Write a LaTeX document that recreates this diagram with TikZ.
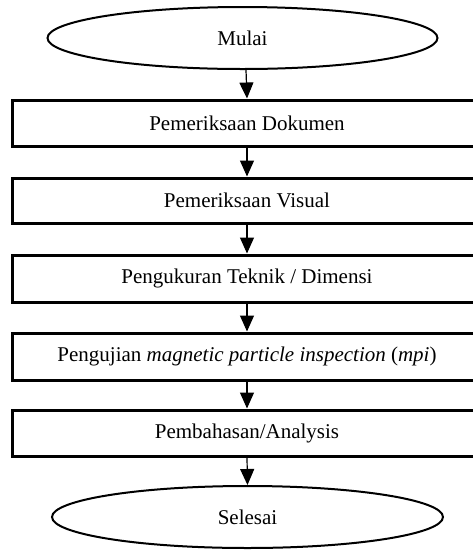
\documentclass[tikz,border=0pt]{standalone}
\usepackage{fontspec}
\setmainfont{Liberation Serif}
\usetikzlibrary{shapes.geometric,arrows.meta}
\begin{document}
\begin{tikzpicture}[x=1pt,y=-1pt,
  every node/.style={font=\fontsize{21}{25}\selectfont},
  term/.style={ellipse,draw,line width=2pt,inner sep=0pt,minimum width=390pt,minimum height=62pt},
  proc/.style={rectangle,draw,line width=3pt,inner sep=0pt,minimum width=470pt,minimum height=46pt},
  flow/.style={line width=1.2pt,-{Triangle[length=16pt,width=14pt]}}]
\useasboundingbox (0,0) rectangle (473,550);
\node[term] (e1) at (242.5,38) {Mulai};
\node[proc] (r1) at (247,123) {Pemeriksaan Dokumen};
\node[proc,minimum height=45pt] (r2) at (247,200.5) {Pemeriksaan Visual};
\node[proc,minimum height=47pt] (r3) at (247,278.5) {Pengukuran Teknik / Dimensi};
\node[proc,minimum height=47pt] (r4) at (247,356.5) {Pengujian \textit{magnetic particle inspection} (\textit{mpi})};
\node[proc] (r5) at (247,433) {Pembahasan/Analysis};
\node[term,minimum width=391pt] (e2) at (247.5,517) {Selesai};
\draw[flow] ([xshift=3.5pt]e1.south) -- (r1.north);
\draw[flow] (r1.south) -- (r2.north);
\draw[flow] (r2.south) -- (r3.north);
\draw[flow] (r3.south) -- (r4.north);
\draw[flow] (r4.south) -- (r5.north);
\draw[flow] (r5.south) -- (e2.north);
\end{tikzpicture}
\end{document}
